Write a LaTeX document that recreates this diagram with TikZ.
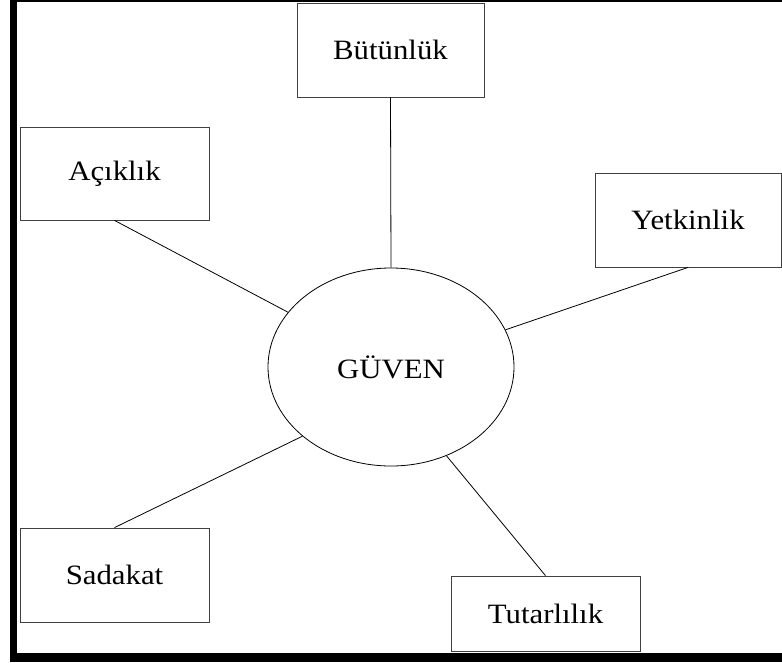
\documentclass[tikz,border=0pt]{standalone}
\usepackage{fontspec}
\setmainfont[FakeStretch=1.1]{Liberation Serif}
\usetikzlibrary{shapes.geometric}
\begin{document}
\begin{tikzpicture}[x=1pt,y=-1pt,
  box/.style={draw=black!75,line width=0.8pt,rectangle,inner sep=0pt,font=\fontsize{28}{30}\selectfont},
  conn/.style={draw=black,line width=0.8pt}]
\useasboundingbox (0,0) rectangle (782,662);
% frame
\fill[black] (10,0) rectangle (16.5,662);
\fill[black] (16,0) rectangle (782,1.5);
% nodes
\node[box,minimum width=187pt,minimum height=94pt] (but) at (390.5,50) {Bütünlük};
\node[box,minimum width=189pt,minimum height=93pt] (aci) at (114.5,173.5) {Açıklık};
\node[box,minimum width=186pt,minimum height=94pt] (yet) at (688,220) {Yetkinlik};
\node[box,minimum width=189pt,minimum height=94pt] (sad) at (114.5,575) {Sadakat};
\node[box,minimum width=189pt,minimum height=75pt] (tut) at (545.5,613.5) {Tutarlılık};
\node[draw=black,line width=0.8pt,ellipse,inner sep=0pt,minimum width=246pt,minimum height=198pt,font=\fontsize{28}{30}\selectfont] (guv) at (391,367) {GÜVEN};
% connectors
\draw[conn] (but.south) -- (guv.north);
\draw[conn] (aci.south) -- (guv.152.6);
\draw[conn] (yet.south) -- (guv.18.9);
\draw[conn] (sad.north) -- (guv.218.9);
\draw[conn] (tut.north) -- (guv.302.9);
% bottom bar
\fill[black] (10,653) rectangle (782,662);
\end{tikzpicture}
\end{document}
